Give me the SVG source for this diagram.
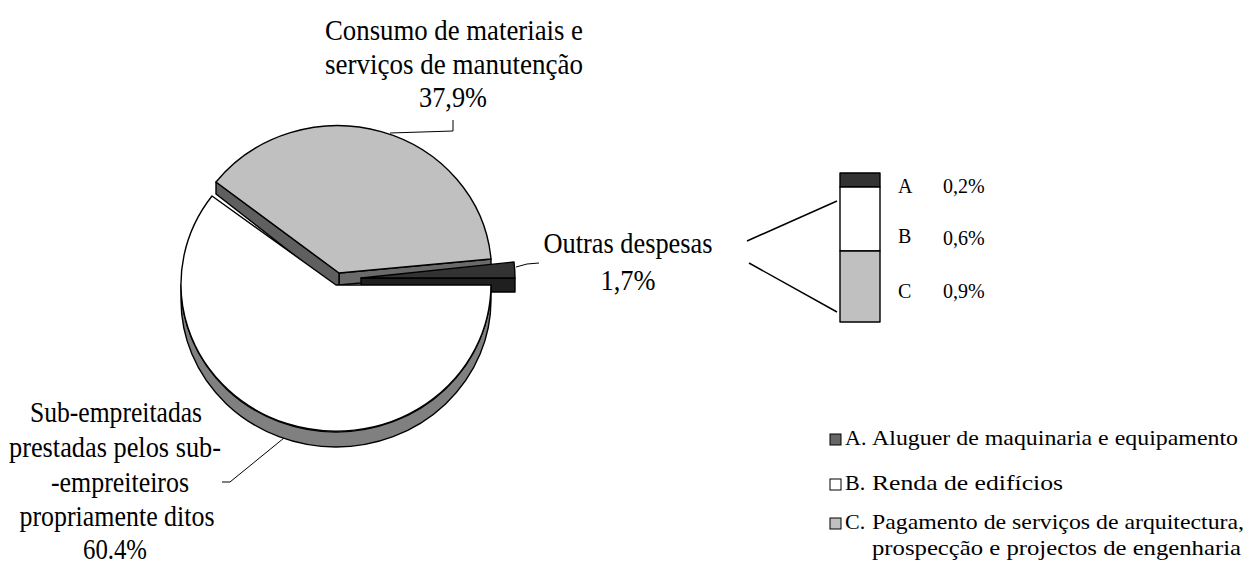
<svg xmlns="http://www.w3.org/2000/svg" width="1248" height="562" viewBox="0 0 1248 562">
<style>
.t{font-family:"Liberation Serif","Times New Roman",serif;fill:#000}
.big{font-size:30px}
.mid{font-size:20px}
.lg{font-size:22px}
.ol{stroke:#000;stroke-width:1.4;stroke-linejoin:round}
.sq{stroke:#000;stroke-width:1}
.ld{fill:none;stroke:#000;stroke-width:1}
.cn{fill:none;stroke:#000;stroke-width:1.5}
</style>
<rect width="1248" height="562" fill="#fff"/>
<g id="slice-consumo">
<polygon class="ol" points="339,273 491,259 491,271 339,285" fill="#6a6a6a"/>
<polygon class="ol" points="216,182 339,273 339,286 334,286 216,194" fill="#5f5f5f"/>
<path class="ol" d="M339 273 L491 259 A154 146 0 0 0 216 182 Z" fill="#c0c0c0"/>
</g>
<g id="slice-outras">
<rect class="ol" x="361" y="278" width="154" height="14" fill="#1f1f1f"/>
<path class="ol" d="M361 278 L515 278 A154 147 0 0 0 514 262 Z" fill="#333333"/>
</g>
<g id="slice-sub">
<path class="ol" d="M181 285 A155 147 0 0 0 491 285 L491 300 A155 147 0 0 1 181 300 Z" fill="#808080"/>
<path class="ol" d="M336 285 L491 285 A155 147 0 1 1 212 196 Z" fill="#ffffff"/>
</g>
<g id="bar">
<rect class="ol" x="840" y="173" width="40" height="14" fill="#333333"/>
<rect class="ol" x="840" y="187" width="40" height="64" fill="#ffffff"/>
<rect class="ol" x="840" y="251" width="40" height="71" fill="#c0c0c0"/>
<text class="t mid" x="898" y="193">A</text>
<text class="t mid" x="943" y="193">0,2%</text>
<text class="t mid" x="898" y="243">B</text>
<text class="t mid" x="943" y="245">0,6%</text>
<text class="t mid" x="898" y="298">C</text>
<text class="t mid" x="943" y="298">0,9%</text>
</g>
<g id="connectors">
<polyline class="ld" points="390,133 453,131 453,120"/>
<polyline class="ld" points="516,267 527,264 539,263"/>
<polyline class="ld" points="284,438 230,482 222,482"/>
<line class="cn" x1="747" y1="241" x2="837" y2="201"/>
<line class="cn" x1="749" y1="263" x2="837" y2="312"/>
</g>
<g id="label-consumo">
<text class="t big" x="454" y="40" text-anchor="middle" textLength="258" lengthAdjust="spacingAndGlyphs">Consumo de materiais e</text>
<text class="t big" x="454" y="74" text-anchor="middle" textLength="258" lengthAdjust="spacingAndGlyphs">serviços de manutenção</text>
<text class="t big" x="453" y="107" text-anchor="middle" textLength="68" lengthAdjust="spacingAndGlyphs">37,9%</text>
</g>
<g id="label-outras">
<text class="t big" x="628" y="253" text-anchor="middle" textLength="169" lengthAdjust="spacingAndGlyphs">Outras despesas</text>
<text class="t big" x="628" y="290" text-anchor="middle" textLength="55" lengthAdjust="spacingAndGlyphs">1,7%</text>
</g>
<g id="label-sub">
<text class="t big" x="116" y="422" text-anchor="middle" textLength="172" lengthAdjust="spacingAndGlyphs">Sub-empreitadas</text>
<text class="t big" x="115" y="457" text-anchor="middle" textLength="212" lengthAdjust="spacingAndGlyphs">prestadas pelos sub-</text>
<text class="t big" x="120" y="492" text-anchor="middle" textLength="138" lengthAdjust="spacingAndGlyphs">-empreiteiros</text>
<text class="t big" x="117" y="526" text-anchor="middle" textLength="195" lengthAdjust="spacingAndGlyphs">propriamente ditos</text>
<text class="t big" x="115" y="559" text-anchor="middle" textLength="64" lengthAdjust="spacingAndGlyphs">60.4%</text>
</g>
<g id="legend">
<rect class="sq" x="830" y="434" width="11" height="11" fill="#666666"/>
<text class="t lg" x="845" y="445">A.</text>
<text class="t lg" x="872" y="445" textLength="366" lengthAdjust="spacingAndGlyphs">Aluguer de maquinaria e equipamento</text>
<rect class="sq" x="830" y="479" width="11" height="11" fill="#ffffff"/>
<text class="t lg" x="845" y="490">B.</text>
<text class="t lg" x="872" y="490" textLength="191" lengthAdjust="spacingAndGlyphs">Renda de edifícios</text>
<rect class="sq" x="830" y="518" width="11" height="11" fill="#c0c0c0"/>
<text class="t lg" x="845" y="529">C.</text>
<text class="t lg" x="872" y="529" textLength="372" lengthAdjust="spacingAndGlyphs">Pagamento de serviços de arquitectura,</text>
<text class="t lg" x="872" y="555" textLength="369" lengthAdjust="spacingAndGlyphs">prospecção e projectos de engenharia</text>
</g>
</svg>
